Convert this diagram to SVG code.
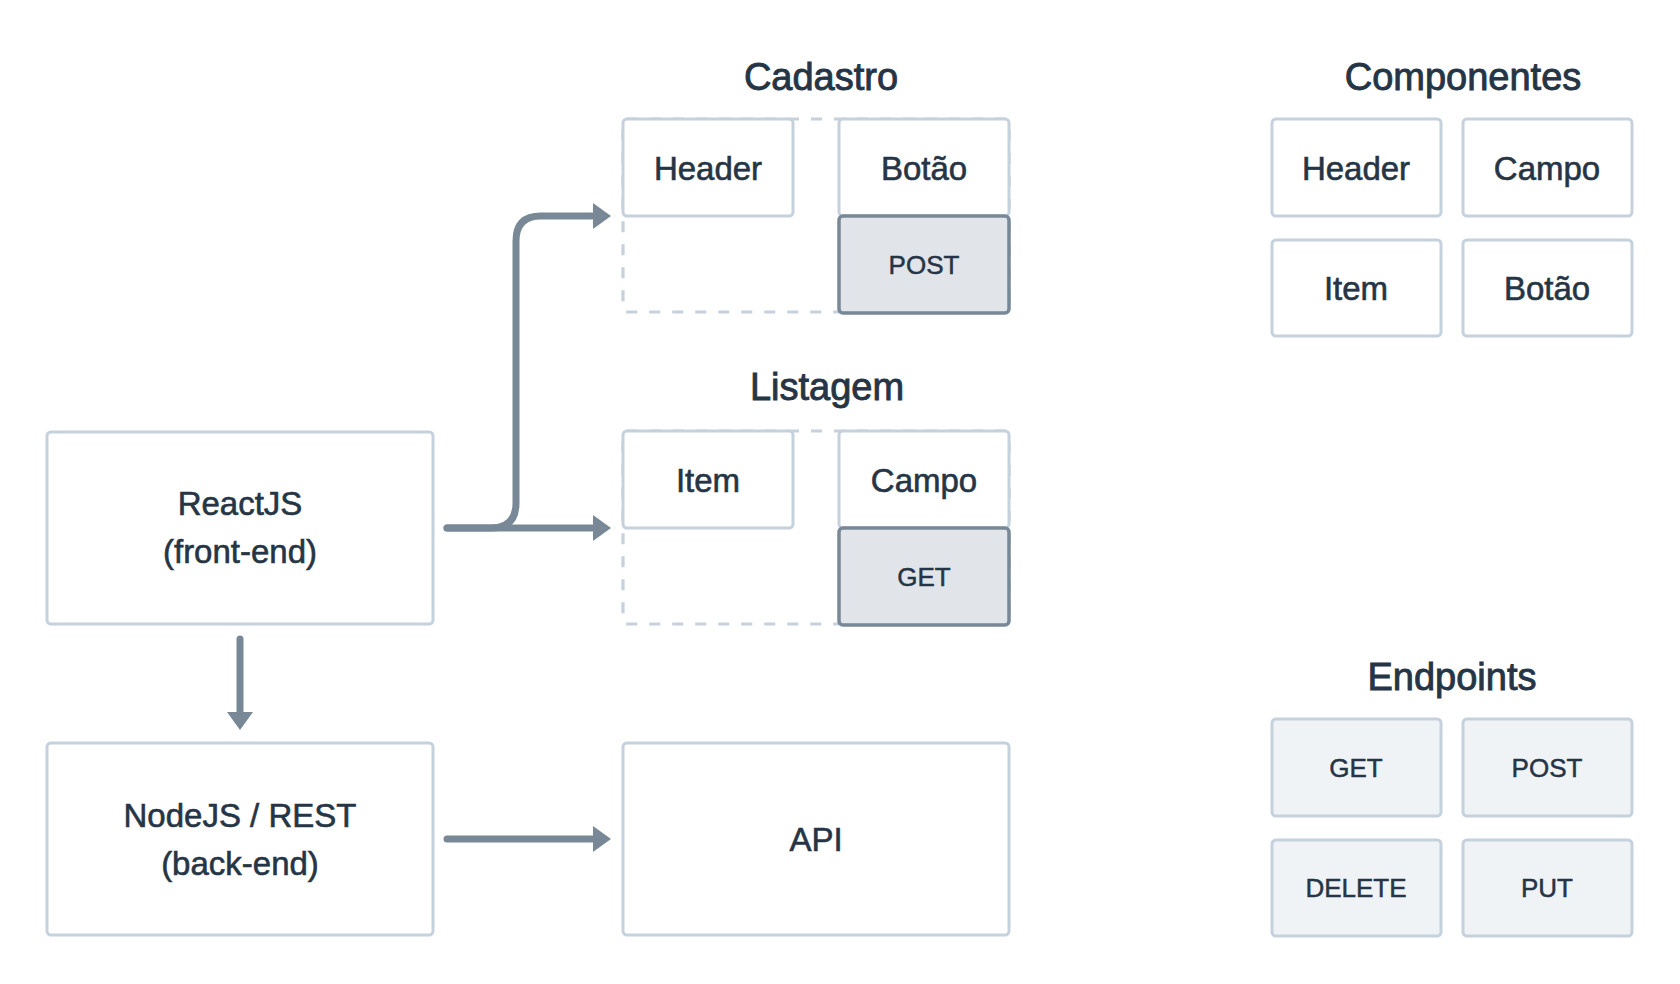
<svg xmlns="http://www.w3.org/2000/svg" width="1680" height="984" viewBox="0 0 1680 984">
<style>
text{font-family:"Liberation Sans",Arial,sans-serif;fill:#263545;stroke:#263545;stroke-width:0.6;text-anchor:middle}
.lbl{font-size:33px}
.m{font-size:26px;stroke-width:0.5}
.t{font-size:38px;stroke-width:0.9}
.box{fill:#fff;stroke:#c5d1dc;stroke-width:3}
.sel{fill:#e1e5e9;stroke:#788896;stroke-width:3.5}
.ep{fill:#f0f3f6;stroke:#c5d1dc;stroke-width:3}
.dash{fill:none;stroke:#c5d1dc;stroke-width:3.2;stroke-dasharray:11 12}
.c{fill:none;stroke:#788896;stroke-width:7;stroke-linecap:round;stroke-linejoin:round}
</style>
<defs>
<marker id="ah" viewBox="0 0 18 26" refX="0" refY="13" markerWidth="18" markerHeight="26" markerUnits="userSpaceOnUse" orient="auto">
<path d="M0,0 L18,13 L0,26 Z" fill="#788896"/>
</marker>
</defs>
<rect width="1680" height="984" fill="#fff"/>

<g id="connectors">
<path class="c" d="M447,528 H491 Q516,528 516,503 V241 Q516,216 541,216 H593" marker-end="url(#ah)"/>
<path class="c" d="M447,528 H593" marker-end="url(#ah)"/>
<path class="c" d="M240,639 V712" marker-end="url(#ah)"/>
<path class="c" d="M447,839 H593" marker-end="url(#ah)"/>
</g>

<g id="reactjs">
<rect class="box" x="47" y="432" width="386" height="192" rx="4"/>
<text class="lbl" x="240" y="515">ReactJS</text>
<text class="lbl" x="240" y="563">(front-end)</text>
</g>
<g id="nodejs">
<rect class="box" x="47" y="743" width="386" height="192" rx="4"/>
<text class="lbl" x="240" y="827">NodeJS / REST</text>
<text class="lbl" x="240" y="875">(back-end)</text>
</g>
<g id="api">
<rect class="box" x="623" y="743" width="386" height="192" rx="4"/>
<text class="lbl" x="816" y="851">API</text>
</g>

<g id="cadastro">
<text class="t" x="821" y="90">Cadastro</text>
<rect class="dash" x="623" y="119" width="386" height="193" rx="4"/>
<rect class="box" x="623" y="119" width="170" height="97" rx="4"/>
<text class="lbl" x="708" y="180">Header</text>
<rect class="box" x="839" y="119" width="170" height="97" rx="4"/>
<text class="lbl" x="924" y="180">Botão</text>
<rect class="sel" x="839" y="216" width="170" height="97" rx="4"/>
<text class="m" x="924" y="274">POST</text>
</g>

<g id="listagem">
<text class="t" x="827" y="400">Listagem</text>
<rect class="dash" x="623" y="431" width="386" height="193" rx="4"/>
<rect class="box" x="623" y="431" width="170" height="97" rx="4"/>
<text class="lbl" x="708" y="492">Item</text>
<rect class="box" x="839" y="431" width="170" height="97" rx="4"/>
<text class="lbl" x="924" y="492">Campo</text>
<rect class="sel" x="839" y="528" width="170" height="97" rx="4"/>
<text class="m" x="924" y="586">GET</text>
</g>

<g id="componentes">
<text class="t" x="1463" y="90">Componentes</text>
<rect class="box" x="1272" y="119" width="169" height="97" rx="4"/>
<text class="lbl" x="1356" y="180">Header</text>
<rect class="box" x="1463" y="119" width="169" height="97" rx="4"/>
<text class="lbl" x="1547" y="180">Campo</text>
<rect class="box" x="1272" y="240" width="169" height="96" rx="4"/>
<text class="lbl" x="1356" y="300">Item</text>
<rect class="box" x="1463" y="240" width="169" height="96" rx="4"/>
<text class="lbl" x="1547" y="300">Botão</text>
</g>

<g id="endpoints">
<text class="t" x="1452" y="690">Endpoints</text>
<rect class="ep" x="1272" y="719" width="169" height="97" rx="4"/>
<text class="m" x="1356" y="777">GET</text>
<rect class="ep" x="1463" y="719" width="169" height="97" rx="4"/>
<text class="m" x="1547" y="777">POST</text>
<rect class="ep" x="1272" y="840" width="169" height="96" rx="4"/>
<text class="m" x="1356" y="897">DELETE</text>
<rect class="ep" x="1463" y="840" width="169" height="96" rx="4"/>
<text class="m" x="1547" y="897">PUT</text>
</g>
</svg>
